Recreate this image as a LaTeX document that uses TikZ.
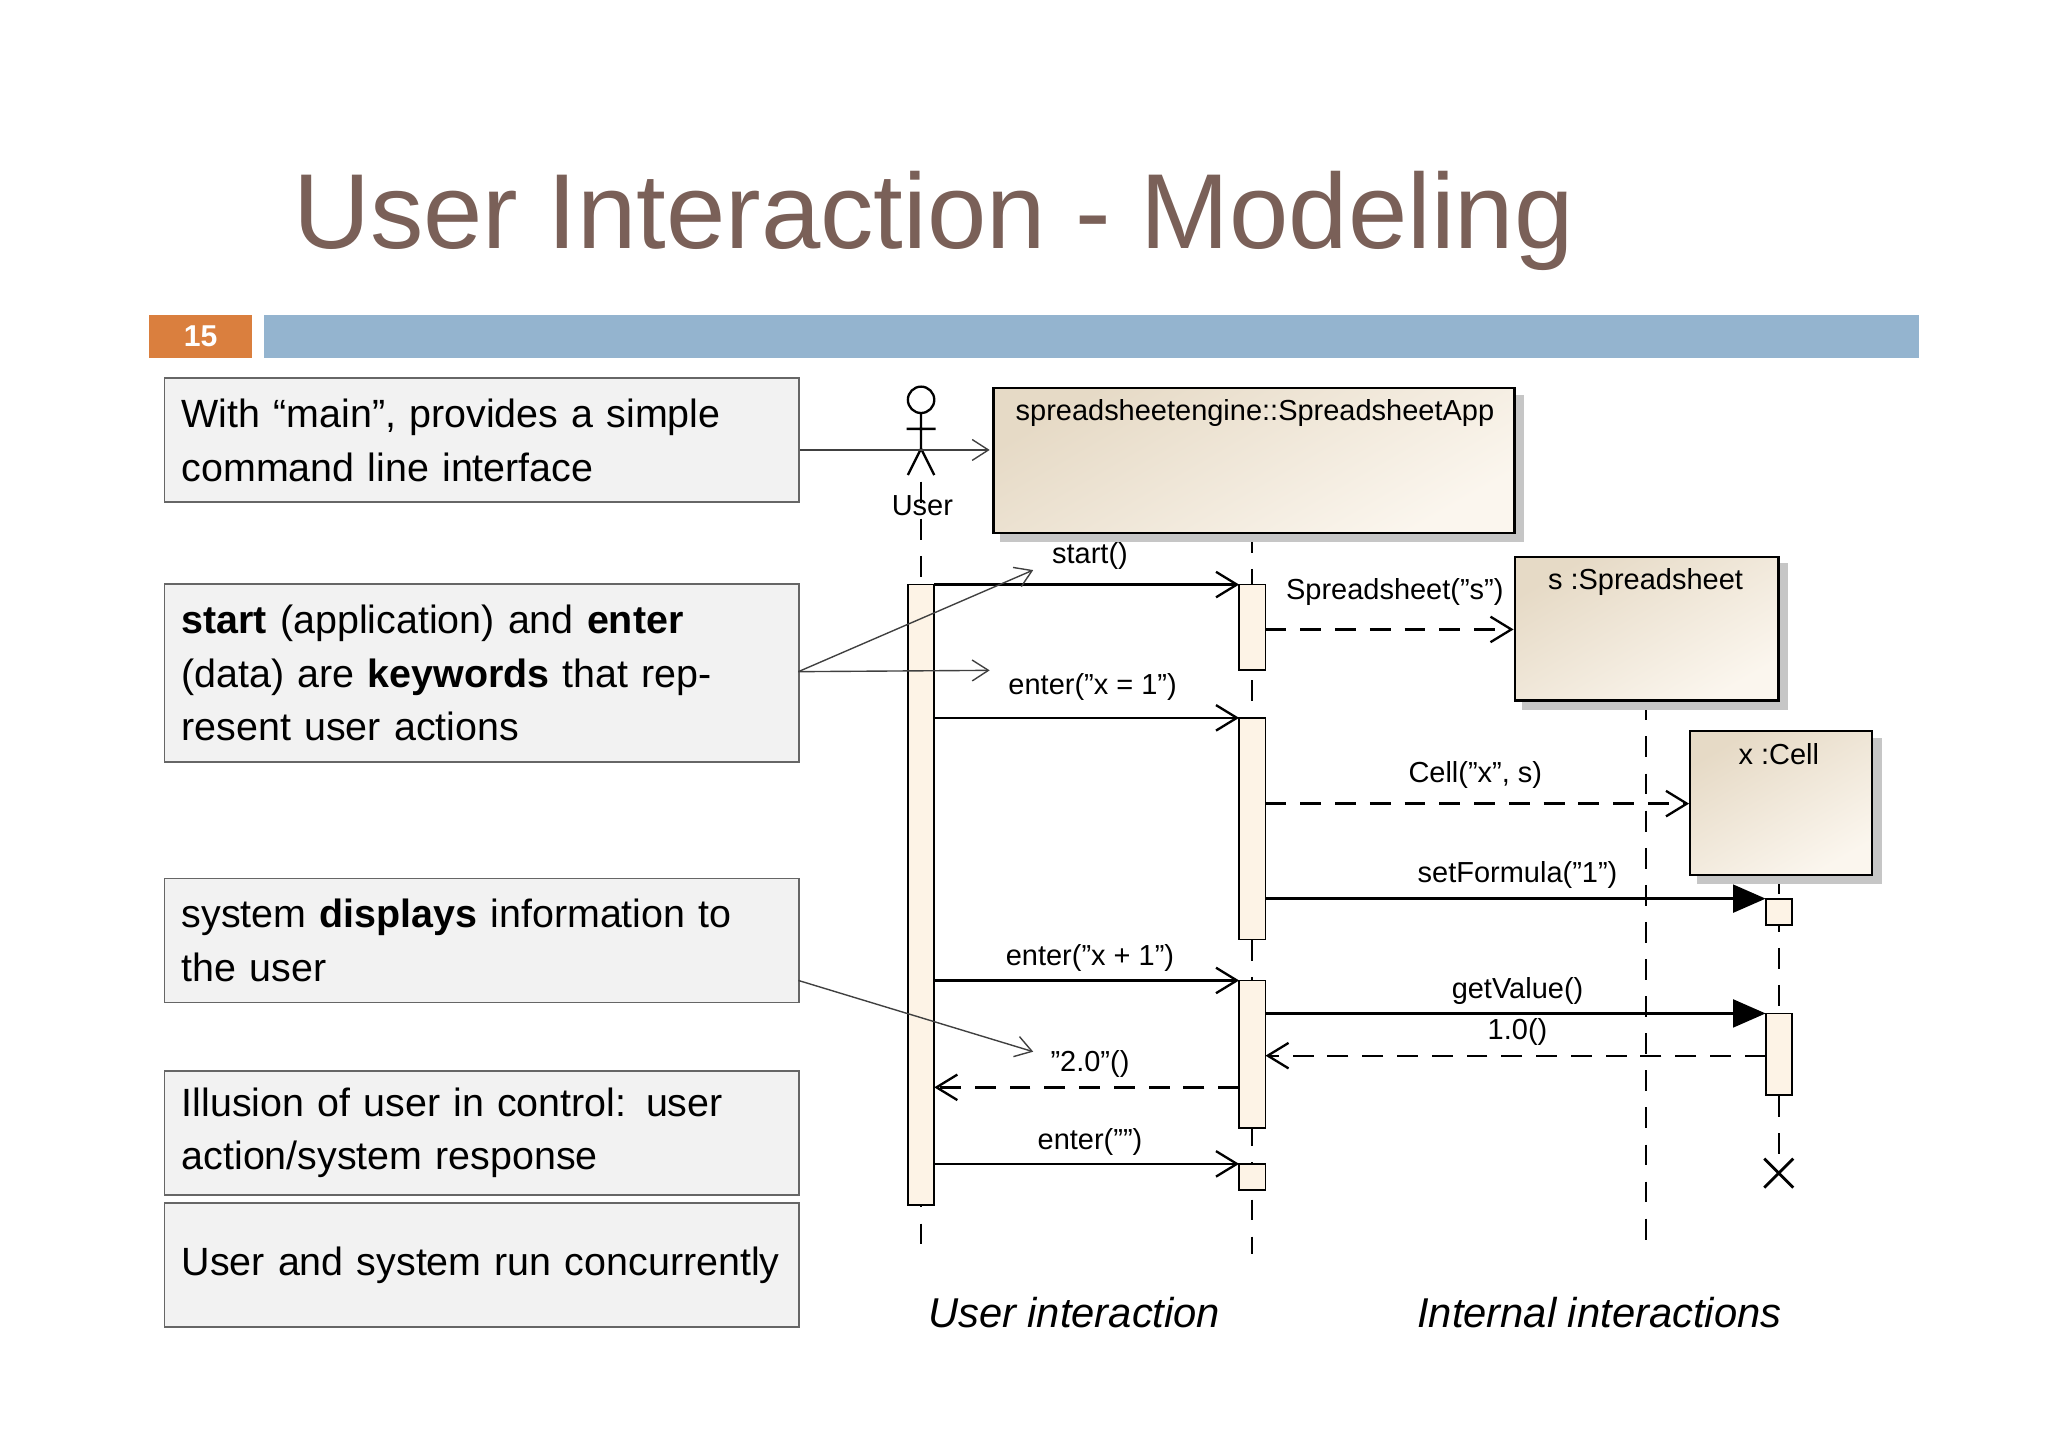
\documentclass[tikz,border=0pt]{standalone}
\usepackage{fontspec}
\setmainfont{Liberation Sans}
\usetikzlibrary{arrows.meta,positioning}
\definecolor{titlebrown}{HTML}{7A6058}
\definecolor{pageorange}{HTML}{DA7F3E}
\definecolor{barblue}{HTML}{94B4CF}
\definecolor{notegray}{HTML}{F2F2F2}
\definecolor{actfill}{HTML}{FDF3E6}
\definecolor{objdark}{HTML}{E6DAC6}
\definecolor{objlight}{HTML}{FBF6EE}
\tikzset{
  note/.style={draw=gray!80!black, fill=notegray, line width=0.8pt, anchor=north west,
    minimum width=9.62cm, minimum height=1.88cm, text width=9.1cm, align=left,
    font=\fontsize{17}{23}\selectfont, inner xsep=0.26cm},
  obj/.style={draw=black, line width=1pt, anchor=north west, inner sep=0pt,
    top color=objdark, bottom color=objlight, shading angle=30},
  shadow/.style={fill=gray!45, draw=none},
  act/.style={draw=black, fill=actfill, line width=0.8pt},
  life/.style={dashed, dash pattern=on 9pt off 7pt, line width=0.9pt},
  msg/.style={line width=1pt, -{Straight Barb[length=9pt,width=11pt]}},
  reply/.style={msg, dash pattern=on 9pt off 6pt},
  call/.style={line width=1pt, -{Triangle[length=14pt,width=12pt]}},
  hint/.style={draw=gray!50!black, line width=0.6pt, -{Straight Barb[length=7pt,width=9pt]}},
  lbl/.style={font=\fontsize{12.5}{14}\selectfont, anchor=base}
}
\begin{document}
\begin{tikzpicture}[x=0.02cm,y=-0.02cm]
    \useasboundingbox (0,0) rectangle (1552,1097);
    % Title and header bar
    \node[font=\fontsize{46}{50}\selectfont, text=titlebrown, anchor=base west] (title) at (216,188) {User Interaction - Modeling};
    \fill[pageorange] (113,239) rectangle (191,271);
    \node[font=\fontsize{13}{14}\selectfont\bfseries, text=white] (page) at (152,255) {15};
    \fill[barblue] (200,239) rectangle (1454,271);

    % Notes
    \node[note] (n1) at (124,286) {With “main”, provides a simple command line interface};
    \node[note, minimum height=2.7cm] (n2) at (124,442) {\textbf{start} (application) and \textbf{enter} (data) are \textbf{keywords} that represent user actions};
    \node[note] (n3) at (124,665) {system \textbf{displays} information to the user};
    \node[note] (n4) at (124,811) {Illusion of user in control: user action/system response};
    \node[note] (n5) at (124,911) {User and system run concurrently};

    % Lifelines
    \draw[life] (698,365) -- (698,950);
    \draw[life] (949,403) -- (949,950);
    \draw[life] (1247,530) -- (1247,945);
    \draw[life] (1348,662) -- (1348,880);

    % Actor
    \draw[line width=1pt] (698,303) circle (10);
    \draw[line width=1pt] (698,313) -- (698,340) (687,325) -- (709,325)
        (698,340) -- (688,360) (698,340) -- (708,360);
    \node[lbl] (user) at (699,391) {User};

    % Objects
    \fill[shadow] (758,299) rectangle (1155,411);
    \node[obj, minimum width=7.9cm, minimum height=2.2cm] (app) at (752,293) {};
    \node[lbl] (appname) at (951,319) {spreadsheetengine::SpreadsheetApp};
    \fill[shadow] (1153,427) rectangle (1355,538);
    \node[obj, minimum width=4cm, minimum height=2.18cm] (sheet) at (1147,421) {};
    \node[lbl] (sheetname) at (1247,447) {s :Spreadsheet};
    \fill[shadow] (1286,559) rectangle (1426,670);
    \node[obj, minimum width=2.76cm, minimum height=2.18cm] (cell) at (1280,553) {};
    \node[lbl] (cellname) at (1348,579) {x :Cell};

    % Activations
    \draw[act] (688,443) rectangle (708,913);
    \foreach \a/\b in {443/508, 544/712, 743/855, 882/902} {
        \draw[act] (939,\a) rectangle (959,\b);
    }
    \draw[act] (1338,681) rectangle (1358,701);
    \draw[act] (1338,768) rectangle (1358,830);
    \draw[line width=1.2pt] (1337,878) -- (1359,900) (1337,900) -- (1359,878);

    % Messages
    \draw[msg] (708,443) -- (939,443);
    \node[lbl] at (826,427) {start()};
    \draw[reply] (959,477) -- (1147,477);
    \node[lbl] at (1057,454) {Spreadsheet("s")};
    \draw[msg] (708,544) -- (939,544);
    \node[lbl] at (828,526) {enter("x = 1")};
    \draw[reply] (959,609) -- (1280,609);
    \node[lbl] at (1118,593) {Cell("x", s)};
    \draw[call] (959,681) -- (1338,681);
    \node[lbl] at (1150,669) {setFormula("1")};
    \draw[msg] (708,743) -- (939,743);
    \node[lbl] at (826,732) {enter("x + 1")};
    \draw[call] (959,768) -- (1338,768);
    \node[lbl] at (1150,757) {getValue()};
    \draw[reply] (1338,800) -- (959,800);
    \node[lbl] at (1150,788) {1.0()};
    \draw[reply] (939,824) -- (708,824);
    \node[lbl] at (826,812) {"2.0"()};
    \draw[msg] (708,882) -- (939,882);
    \node[lbl] at (826,871) {enter("")};

    % Hints from notes
    \draw[hint] (n1.east |- 0,341) -- (750,341);
    \draw[hint] (605,509) -- (783,432);
    \draw[hint] (605,509) -- (750,508);
    \draw[hint] (605,743) -- (783,797);

    % Captions
    \node[font=\fontsize{18}{20}\selectfont\itshape, anchor=base] (cap1) at (814,1006) {User interaction};
    \node[font=\fontsize{18}{20}\selectfont\itshape, anchor=base] (cap2) at (1212,1006) {Internal interactions};
\end{tikzpicture}
\end{document}
